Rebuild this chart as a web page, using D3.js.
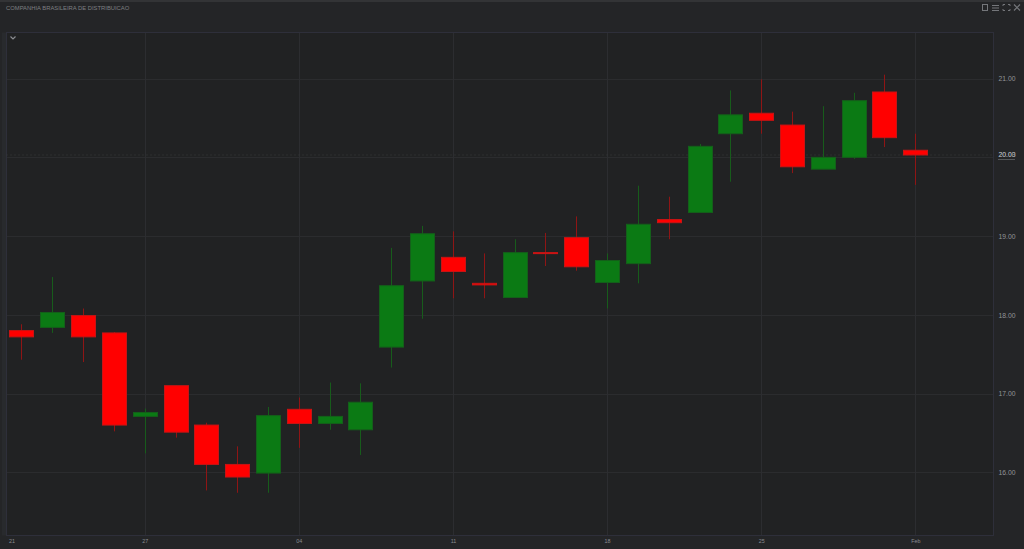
<!DOCTYPE html>
<html>
<head>
<meta charset="utf-8">
<script src="https://cdn.jsdelivr.net/npm/d3@7/dist/d3.min.js"></script>
<style>
html,body{margin:0;padding:0;background:#242527;overflow:hidden}
svg{display:block}
text{font-family:"Liberation Sans",Arial,sans-serif}
</style>
</head>
<body>
<svg id="chart" width="1024" height="549"></svg>
<script>
const title = "COMPANHIA BRASILEIRA DE DISTRIBUICAO";
const dates = ["2021-12-21","2021-12-22","2021-12-23","2021-12-24","2021-12-27","2021-12-28","2021-12-29","2021-12-30","2022-01-03","2022-01-04","2022-01-05","2022-01-06","2022-01-07","2022-01-10","2022-01-11","2022-01-12","2022-01-13","2022-01-14","2022-01-17","2022-01-18","2022-01-19","2022-01-20","2022-01-21","2022-01-24","2022-01-25","2022-01-26","2022-01-27","2022-01-28","2022-01-31","2022-02-01"];
const open  = [17.80,17.84,17.99,17.77,16.71,17.10,16.60,16.10,15.99,16.80,16.62,16.54,17.59,18.43,18.73,18.40,18.22,18.79,18.98,18.41,18.65,19.21,19.30,20.30,20.56,20.41,19.85,20.00,20.83,20.09];
const close = [17.72,18.03,17.72,16.60,16.76,16.51,16.10,15.94,16.72,16.62,16.71,16.89,18.37,19.03,18.55,18.38,18.79,18.78,18.61,18.69,19.15,19.17,20.14,20.54,20.47,19.88,20.00,20.72,20.25,20.03];
const high  = [17.88,18.48,18.08,17.78,16.81,17.10,16.63,16.33,16.83,16.95,17.14,17.13,18.85,19.13,19.06,18.78,18.96,19.04,19.25,18.78,19.64,19.50,20.17,20.85,20.99,20.58,20.65,20.82,21.05,20.30];
const low   = [17.43,17.77,17.40,16.52,16.24,16.44,15.77,15.74,15.74,16.31,16.54,16.22,17.33,17.95,18.21,18.21,18.22,18.62,18.56,18.08,18.40,18.96,19.30,19.69,20.30,19.80,19.85,19.98,20.13,19.65];
const priceTicks = [16,17,18,19,20,21];
const prevClose = 20.00;
const lastClose = 20.03;
const dateTicks = ["2021-12-21","2021-12-27","2022-01-04","2022-01-11","2022-01-18","2022-01-25","2022-02-01"];
const dateTickLabels = ["21","27","04","11","18","25","Feb"];

const svg = d3.select("#chart");
const frame = {l:6.5, t:32.5, r:993.5, b:535.5};
const x = d3.scalePoint().domain(dates).range([21.4, 915.3]);
const y = d3.scaleLinear().domain([16,21]).range([472.3,78.6]);
const bodyW = 24;
const sx = d => Math.round(x(d)) + .5;

svg.append("rect").attr("x",0).attr("y",0).attr("width",1024).attr("height",2).attr("fill","#333436");
svg.append("rect").attr("x",2).attr("y",frame.t).attr("width",4).attr("height",frame.b-frame.t).attr("fill","#282a2d");
svg.append("rect").attr("x",frame.l).attr("y",frame.t).attr("width",frame.r-frame.l).attr("height",frame.b-frame.t).attr("fill","#212223");

// Grid
const gGrid = svg.append("g");
gGrid.selectAll("line.h").data(priceTicks).join("line").attr("class","h")
  .attr("x1",frame.l).attr("x2",frame.r).attr("y1",d=>Math.round(y(d))+.5).attr("y2",d=>Math.round(y(d))+.5)
  .attr("stroke","#2b2c2e").attr("stroke-width",1);
gGrid.selectAll("line.v").data(dateTicks.slice(1)).join("line").attr("class","v")
  .attr("y1",frame.t).attr("y2",frame.b).attr("x1",sx).attr("x2",sx)
  .attr("stroke","#2c2d30").attr("stroke-width",1);

svg.append("rect").attr("x",frame.l).attr("y",frame.t).attr("width",frame.r-frame.l).attr("height",frame.b-frame.t)
  .attr("fill","none").attr("stroke","#2e2f3a").attr("stroke-width",1);

// Last price line
svg.append("line").attr("x1",frame.l).attr("x2",frame.r).attr("y1",y(lastClose)).attr("y2",y(lastClose))
  .attr("stroke","#3a3b3d").attr("stroke-dasharray","1,3").attr("stroke-width",1);

// Candles
const rows = dates.map((d,i)=>({d,o:open[i],c:close[i],h:high[i],l:low[i]}));
const up = r => r.c >= r.o;
const candles = svg.append("g").selectAll("g").data(rows).join("g");
candles.append("line")
  .attr("x1",r=>sx(r.d)).attr("x2",r=>sx(r.d))
  .attr("y1",r=>y(r.h)).attr("y2",r=>y(r.l))
  .attr("stroke",r=>up(r)?"#175c1b":"#8f1515").attr("stroke-width",1);
candles.append("rect")
  .attr("x",r=>sx(r.d)-bodyW/2).attr("width",bodyW)
  .attr("y",r=>y(Math.max(r.o,r.c))).attr("height",r=>Math.max(1,Math.abs(y(r.o)-y(r.c))))
  .attr("fill",r=>up(r)?"#0b7a14":"#ff0000")
  .attr("stroke",r=>up(r)?"#14601a":"#c81414").attr("stroke-width",1);

// Axes
const axY = svg.append("g").attr("transform",`translate(${frame.r},0)`)
  .call(d3.axisRight(y).tickValues(priceTicks.filter(v=>v!==20)).tickFormat(d3.format(".2f")).tickSize(0).tickPadding(5));
axY.select(".domain").remove();
axY.selectAll("text").attr("font-size",6.8).attr("fill","#919398").style("font-family","'Liberation Sans',Arial,sans-serif");

const axX = svg.append("g").attr("transform",`translate(0,${frame.b})`)
  .call(d3.axisBottom(x).tickValues(dateTicks).tickFormat((d,i)=>dateTickLabels[i]).tickSize(0).tickPadding(3.5));
axX.select(".domain").remove();
axX.selectAll("text").attr("font-size",5.4).attr("fill","#8a8c91").style("font-family","'Liberation Sans',Arial,sans-serif");
axX.selectAll(".tick").filter((d,i)=>i===0).select("text").attr("dx",-10);

// Last price labels, drawn over each other as in the source terminal
[prevClose,lastClose].forEach(v=>{
  svg.append("text").attr("x",frame.r+5).attr("y",y(lastClose)).attr("dy","0.32em")
    .attr("font-size",6.8).attr("fill","#a2a4a9").text(d3.format(".2f")(v));
});
svg.append("rect").attr("x",998).attr("y",159).attr("width",17).attr("height",1).attr("fill","#55575a");

// Title and controls
svg.append("text").attr("x",6).attr("y",9.5).attr("font-size",5.85).attr("fill","#7d7f82").text(title);
svg.append("path").attr("d","M10.5 36.5 L13 39 L15.5 36.5").attr("fill","none").attr("stroke","#8a8c90").attr("stroke-width",1.2);

const icons = svg.append("g").attr("fill","none").attr("stroke","#74767a").attr("stroke-width",1);
icons.append("rect").attr("x",982.5).attr("y",4.5).attr("width",5).attr("height",6);
icons.append("path").attr("d","M992 5.5H999M992 8H999M992 10.5H999");
icons.append("path").attr("d","M1003 6V4.5H1005M1008 4.5H1010V6M1010 9V10.5H1008M1005 10.5H1003V9");
icons.append("path").attr("d","M1014 4.5L1020 10.5M1020 4.5L1014 10.5").attr("stroke-width",1.2);
</script>
</body>
</html>
